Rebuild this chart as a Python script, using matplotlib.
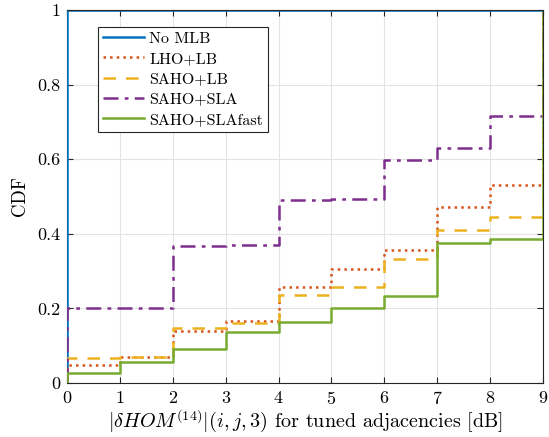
import numpy as np
import matplotlib.pyplot as plt

plt.rcParams['font.family'] = 'serif'
plt.rcParams['font.serif'] = ['cmr10', 'DejaVu Serif']
plt.rcParams['mathtext.fontset'] = 'cm'
plt.rcParams['axes.formatter.use_mathtext'] = True

# bin edges (dB) and CDF level on each bin [0,1), [1,2), ... [8,9)
edges = np.arange(0, 10)
no_mlb = [1, 1, 1, 1, 1, 1, 1, 1, 1]
lho_lb = [0.048, 0.070, 0.140, 0.166, 0.258, 0.305, 0.357, 0.471, 0.530]
saho_lb = [0.067, 0.070, 0.147, 0.160, 0.236, 0.258, 0.332, 0.410, 0.446]
saho_sla = [0.200, 0.200, 0.368, 0.371, 0.490, 0.493, 0.598, 0.630, 0.716]
saho_slafast = [0.028, 0.057, 0.091, 0.138, 0.163, 0.202, 0.233, 0.376, 0.387]

labels = ['No MLB', 'LHO+LB', 'SAHO+LB', 'SAHO+SLA', 'SAHO+SLAfast']
colors = ['#0072BD', '#D95319', '#EDB120', '#7E2F8E', '#77AC30']
styles = ['-', ':', (0, (5, 4)), (0, (6, 2.5, 1.5, 2.5)), '-']
series = [no_mlb, lho_lb, saho_lb, saho_sla, saho_slafast]

fig = plt.figure(figsize=(5.49, 4.37), dpi=100)
ax = fig.add_axes([0.122, 0.1236, 0.867, 0.8535])

for vals, lab, c, ls in zip(series, labels, colors, styles):
    xs = np.concatenate([[edges[0]], edges])
    ys = np.concatenate([[0], vals, [1]])
    ax.step(xs, ys, where='post', color=c, linestyle=ls, linewidth=1.8,
            label=lab, zorder=3)

ax.set_xlim(0, 9)
ax.set_ylim(0, 1)
ax.set_xticks(edges)
ax.set_yticks([0, 0.2, 0.4, 0.6, 0.8, 1])
ax.set_yticklabels(['0', '0.2', '0.4', '0.6', '0.8', '1'])
ax.tick_params(direction='in', top=True, right=True, labelsize=13, length=4,
               color='#262626', pad=5)
ax.grid(True, color='#e3e3e3', linewidth=0.8)
ax.set_axisbelow(True)
for s in ax.spines.values():
    s.set_color('#262626')
    s.set_linewidth(0.8)
ax.spines['top'].set_zorder(4)
ax.spines['bottom'].set_zorder(4)

ax.set_xlabel(r'$|\delta HOM^{(14)}|(i,j,3)$ for tuned adjacencies [dB]', fontsize=14.5, labelpad=1)
ax.set_ylabel('CDF', fontsize=13.5, labelpad=6)

leg = ax.legend(loc='upper left', bbox_to_anchor=(0.065, 0.955), fontsize=11.5,
                fancybox=False, framealpha=1, edgecolor='#262626',
                handlelength=2.6, handletextpad=0.3, borderpad=0.3, labelspacing=0.38,
                borderaxespad=0)
leg.get_frame().set_linewidth(0.8)
leg.set_zorder(5)

plt.savefig('out.png', dpi=100)
